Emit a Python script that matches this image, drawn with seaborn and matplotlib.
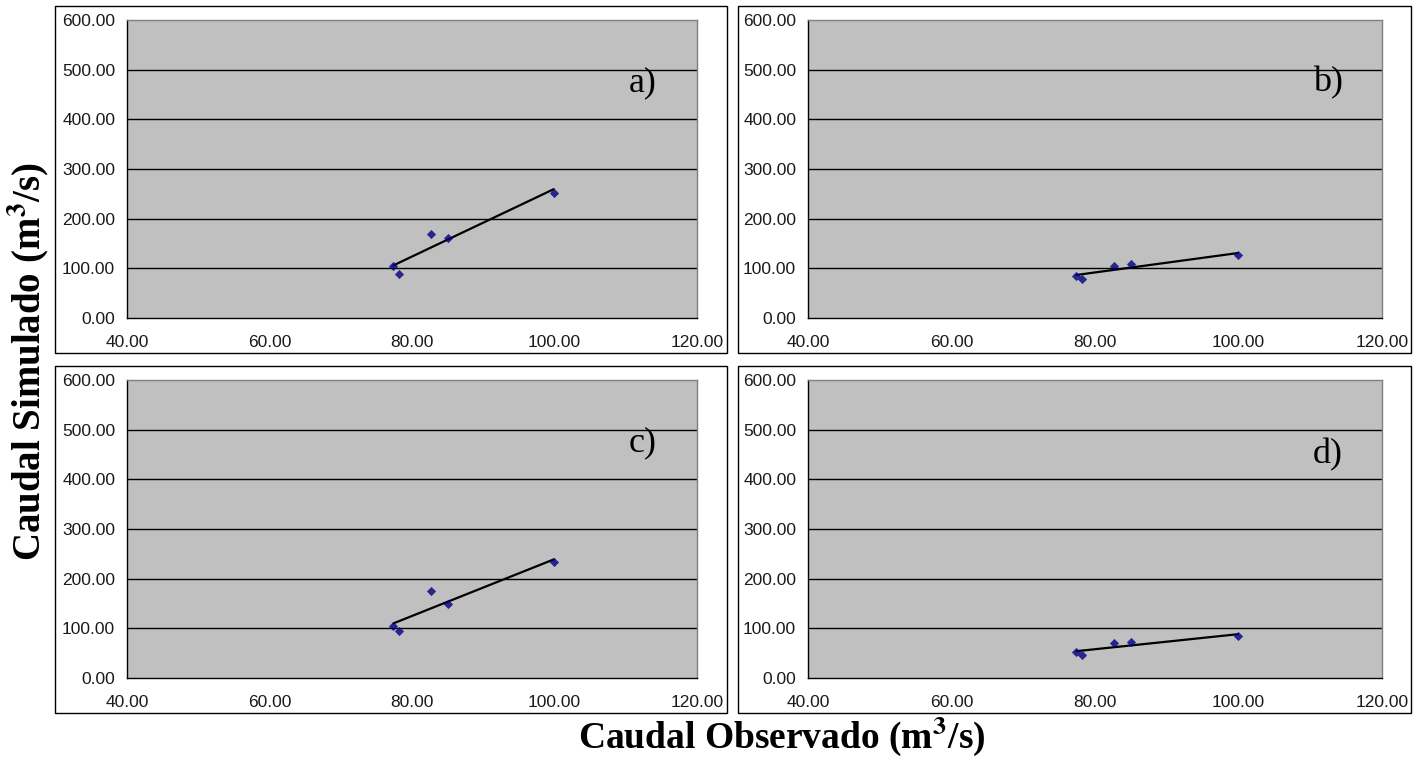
import matplotlib
matplotlib.use("Agg")
import matplotlib.pyplot as plt
from matplotlib.patches import Rectangle
from matplotlib.ticker import FormatStrFormatter
import seaborn as sns
import pandas as pd

# Data
caudal_obs = [77.4, 78.2, 82.6, 85.0, 99.9]
sim_a = [104.6, 88.0, 170.0, 161.0, 252.6]
sim_b = [84.5, 79.0, 105.0, 108.6, 126.8]
sim_c = [104.5, 94.7, 175.9, 148.9, 232.7]
sim_d = [52.0, 46.2, 70.4, 71.8, 84.4]
panel_labels = ["a)", "b)", "c)", "d)"]
x_ticks = [40, 60, 80, 100, 120]
y_ticks = [0, 100, 200, 300, 400, 500, 600]

sns.set_style("white")
plt.rcParams['font.family'] = ['Liberation Sans', 'DejaVu Sans']
plt.rcParams['mathtext.fontset'] = 'stix'
plt.rcParams['text.color'] = 'black'

W, H = 1419, 759
fig = plt.figure(figsize=(W / 100, H / 100), dpi=100)

def px_box(left, top, right, bottom):
    return [left / W, 1 - bottom / H, (right - left) / W, (bottom - top) / H]

# plot areas (pixels) and outer chart frames (pixels)
plot_boxes = [(127, 20, 697, 318), (808, 20, 1382, 318),
              (127, 380, 697, 678), (808, 380, 1382, 678)]
frame_boxes = [(55, 6, 727, 353), (738, 6, 1411, 353),
               (55, 366, 727, 713), (738, 366, 1411, 713)]
label_pos = [(0.905, 0.79), (0.906, 0.79), (0.905, 0.79), (0.906, 0.75)]
series = [sim_a, sim_b, sim_c, sim_d]

for fb in frame_boxes:
    l, t, r, b = fb
    fig.add_artist(Rectangle((l / W, 1 - b / H), (r - l) / W, (b - t) / H,
                             transform=fig.transFigure, fill=False,
                             edgecolor='black', linewidth=1.0))

for i, sim in enumerate(series):
    ax = fig.add_axes(px_box(*plot_boxes[i]))
    ax.set_facecolor('#c0c0c0')
    df = pd.DataFrame({'obs': caudal_obs, 'sim': sim})
    for yv in y_ticks[1:-1]:
        ax.axhline(yv, color='black', linewidth=1.0, zorder=1)
    sns.regplot(data=df, x='obs', y='sim', ax=ax, ci=None, truncate=True,
                marker='D', color='#000080',
                scatter_kws={'s': 22, 'zorder': 3, 'linewidths': 0},
                line_kws={'color': 'black', 'linewidth': 1.6, 'zorder': 2})
    ax.set_xlim(40, 120)
    ax.set_ylim(0, 600)
    ax.set_xticks(x_ticks)
    ax.set_yticks(y_ticks)
    ax.xaxis.set_major_formatter(FormatStrFormatter('%.2f'))
    ax.yaxis.set_major_formatter(FormatStrFormatter('%.2f'))
    ax.set_xlabel('')
    ax.set_ylabel('')
    ax.tick_params(axis='both', labelsize=12.5, labelcolor='#1a1a1a',
                   color='black', length=5, width=1)
    ax.tick_params(axis='x', direction='out', pad=7)
    ax.tick_params(axis='y', direction='inout', pad=6)
    ax.spines['left'].set_color('black')
    ax.spines['bottom'].set_color('black')
    ax.spines['top'].set_color('#808080')
    ax.spines['right'].set_color('#808080')
    for s in ax.spines.values():
        s.set_linewidth(1.0)
    ax.text(label_pos[i][0], label_pos[i][1], panel_labels[i],
            transform=ax.transAxes, ha='center', va='center',
            fontsize=26, family='Liberation Serif', color='black')

fig.text(782 / W, 1 - 736 / H, r'Caudal Observado (m$^{\mathbf{3}}$/s)',
         ha='center', va='center', fontsize=27, fontweight='bold',
         family='Liberation Serif', color='black')
fig.text(28 / W, 1 - 362 / H, r'Caudal Simulado (m$^{\mathbf{3}}$/s)',
         ha='center', va='center', rotation=90, fontsize=28,
         fontweight='bold', family='Liberation Serif', color='black')

fig.savefig('out.png', dpi=100, facecolor='white')
